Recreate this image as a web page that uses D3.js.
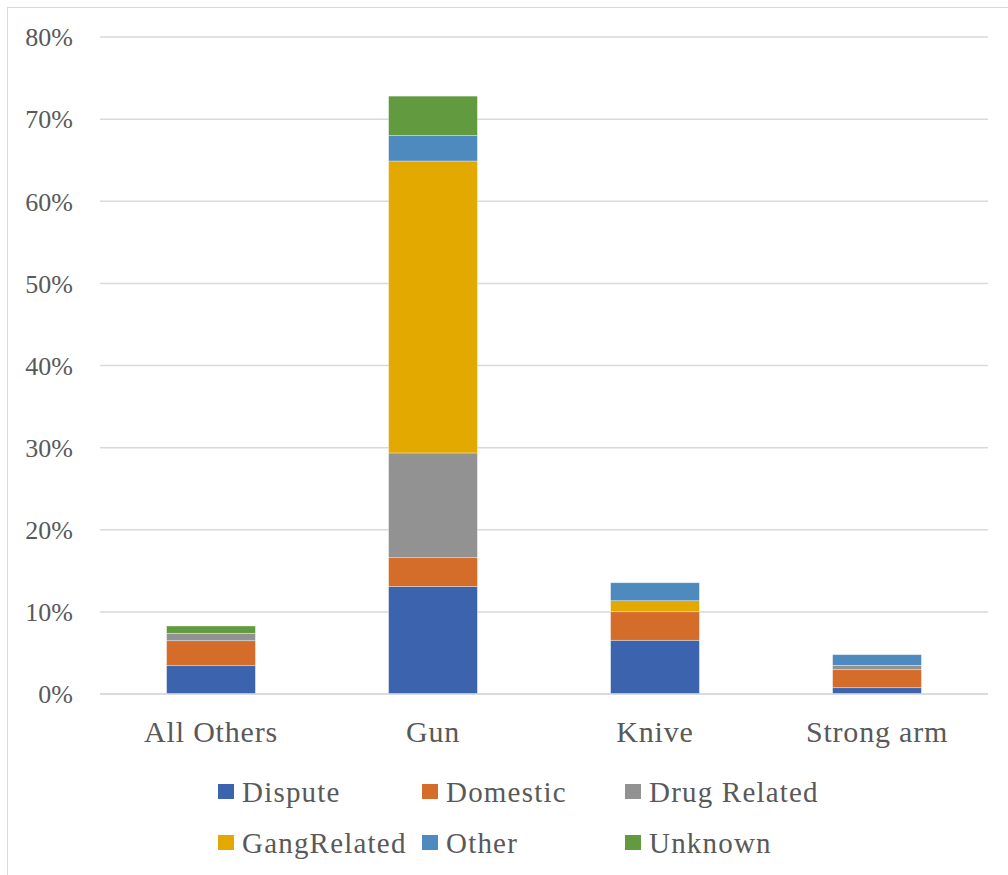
<!DOCTYPE html>
<html>
<head>
<meta charset="utf-8">
<script src="https://cdn.jsdelivr.net/npm/d3@7"></script>
<style>
  html, body { margin: 0; padding: 0; background: #fff; }
  svg { display: block; }
  text { font-family: "Liberation Serif", "Tinos", "Times New Roman", "DejaVu Serif", serif; fill: #595959; }
</style>
</head>
<body>
<svg id="chart" width="1008" height="875"></svg>
<script>
// Weapon categories on the x axis
const categories = ["All Others", "Gun", "Knive", "Strong arm"];

// Motive series (share of all cases, %)
const seriesNames = ["Dispute", "Domestic", "Drug Related", "GangRelated", "Other", "Unknown"];
const dispute     = [3.45, 13.1, 6.54, 0.77];
const domestic    = [3.04, 3.5, 3.48, 2.19];
const drugRelated = [0.9, 12.75, 0, 0.53];
const gangRelated = [0, 35.55, 1.34, 0];
const other       = [0, 3.1, 2.19, 1.3];
const unknown     = [0.89, 4.8, 0, 0];

const yTicks = [0, 10, 20, 30, 40, 50, 60, 70, 80];
const colors = ["#3C64AE", "#D56D2A", "#929292", "#E3A900", "#4F8ABE", "#629A3F"];

const seriesValues = [dispute, domestic, drugRelated, gangRelated, other, unknown];
const table = categories.map((c, i) => {
  const row = { category: c };
  seriesNames.forEach((s, j) => { row[s] = seriesValues[j][i]; });
  return row;
});

const FONT = '"Liberation Serif", "Tinos", "Times New Roman", "DejaVu Serif", serif';
const svg = d3.select("#chart");

// chart frame
svg.append("rect")
  .attr("x", 7.5).attr("y", 7.5)
  .attr("width", 1010).attr("height", 880)
  .attr("fill", "none").attr("stroke", "#d9d9d9").attr("stroke-width", 1);

const plot = { left: 100, right: 988, top: 37, bottom: 694 };

const x = d3.scaleBand()
  .domain(categories)
  .range([plot.left, plot.right])
  .paddingInner(0.6).paddingOuter(0.3);

const y = d3.scaleLinear().domain([0, 80]).range([plot.bottom, plot.top]);

// gridlines
svg.append("g")
  .selectAll("line")
  .data(yTicks)
  .join("line")
  .attr("x1", plot.left).attr("x2", plot.right)
  .attr("y1", d => y(d)).attr("y2", d => y(d))
  .attr("stroke", "#d9d9d9").attr("stroke-width", 1.5);

// y axis labels
const yAxis = d3.axisLeft(y).tickValues(yTicks).tickFormat(d => d + "%").tickSize(0).tickPadding(0);
const yg = svg.append("g").attr("transform", "translate(73,0)").call(yAxis)
  .attr("font-family", FONT);
yg.select(".domain").remove();
yg.selectAll("text")
  .style("font-family", FONT)
  .attr("font-size", 26)
  .attr("fill", "#595959")
  .attr("dy", "0.34em");

// stacked bars
const stack = d3.stack().keys(seriesNames);
const layers = stack(table);

svg.append("g")
  .selectAll("g")
  .data(layers)
  .join("g")
  .attr("fill", (d, i) => colors[i])
  .selectAll("rect")
  .data(d => d.filter(p => p[1] - p[0] > 0))
  .join("rect")
  .attr("x", d => x(d.data.category))
  .attr("width", x.bandwidth())
  .attr("y", d => y(d[1]))
  .attr("height", d => y(d[0]) - y(d[1]))
  .attr("stroke", "#ffffff").attr("stroke-opacity", 0.45).attr("stroke-width", 0.75);

// baseline
svg.append("line")
  .attr("x1", plot.left).attr("x2", plot.right)
  .attr("y1", y(0)).attr("y2", y(0))
  .attr("stroke", "#d9d9d9").attr("stroke-width", 1.5);

// x axis labels
const xAxis = d3.axisBottom(x).tickSize(0).tickPadding(0);
const xg = svg.append("g").attr("transform", "translate(0,742)").call(xAxis)
  .attr("font-family", FONT);
xg.select(".domain").remove();
xg.selectAll("text")
  .style("font-family", FONT)
  .attr("font-size", 30)
  .attr("letter-spacing", 0.8)
  .attr("fill", "#595959")
  .attr("dy", 0);

// legend
const legendCols = [218, 422, 625];
const legendRows = [784, 835];
const legend = svg.append("g")
  .selectAll("g")
  .data(seriesNames)
  .join("g")
  .attr("transform", (d, i) => `translate(${legendCols[i % 3]},${legendRows[Math.floor(i / 3)]})`);
legend.append("rect")
  .attr("width", 16).attr("height", 15)
  .attr("fill", (d, i) => colors[i]);
legend.append("text")
  .attr("x", 24).attr("y", 18)
  .style("font-family", FONT)
  .attr("font-size", 29)
  .attr("letter-spacing", 1.2)
  .text(d => d);
</script>
</body>
</html>
